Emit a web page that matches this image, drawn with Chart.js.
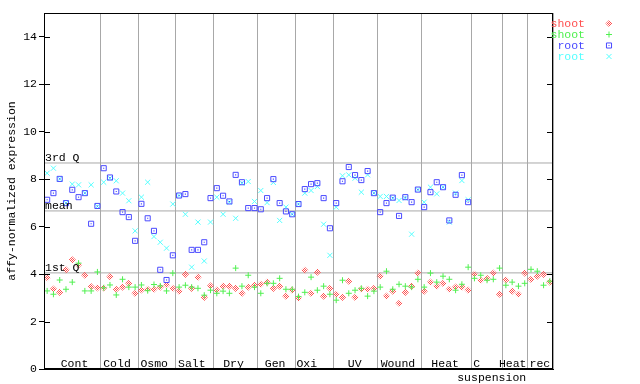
<!DOCTYPE html>
<html><head><meta charset="utf-8">
<script src="https://cdn.jsdelivr.net/npm/chart.js@4"></script>
<style>html,body{margin:0;padding:0;background:#fff}#wrap{width:640px;height:384px;position:relative}</style>
</head><body><div id="wrap"><canvas id="c" width="640" height="384"></canvas></div>
<script>
// ---- data ----
const groups = ['Cont','Cold','Osmo','Salt','Dry','Gen','Oxi','UV','Wound','Heat','C suspension','Heat','rec'];
const groupSizes = [9,6,6,6,7,6,6,7,7,8,5,4,4];
const shootRed = [3.85,3.37,3.23,4.18,4.60,4.39,3.95,3.47,3.42,
  3.42,3.89,3.36,3.45,3.61,3.19,
  3.33,3.36,3.36,3.45,3.55,3.40,
  3.28,3.99,3.40,3.87,3.02,3.50,
  3.32,3.49,3.49,3.40,3.19,3.45,3.53,
  3.57,3.66,3.40,3.49,3.07,3.32,
  2.98,4.16,3.19,4.08,3.07,3.40,
  3.15,3.02,3.70,3.02,3.36,3.36,3.40,
  3.91,3.07,3.28,2.77,3.23,3.49,4.04,
  3.28,3.66,3.49,3.61,3.36,3.45,3.45,3.32,
  3.99,3.74,3.82,4.04,3.15,
  3.75,3.28,3.15,4.04,
  3.78,3.91,3.99,3.66];
const shootGreen = [3.29,3.15,3.75,3.36,3.66,4.46,3.29,3.29,4.09,
  3.42,3.54,3.12,3.78,3.45,3.45,
  3.54,3.30,3.56,3.50,3.29,4.04,
  3.45,3.53,3.45,3.40,3.11,3.32,
  3.19,3.28,3.19,4.25,3.49,3.95,3.45,
  3.19,3.61,3.61,3.82,3.36,3.36,
  3.05,3.23,3.87,3.32,3.49,3.15,
  2.90,3.74,3.19,3.32,3.40,3.07,3.28,
  3.45,4.12,3.36,3.57,3.49,3.45,3.78,
  3.45,4.04,3.66,3.91,3.78,3.32,3.57,4.29,
  3.82,3.95,3.74,3.78,4.25,
  3.53,3.66,3.49,3.61,
  4.20,4.12,3.53,3.70];
const rootBlue = [7.13,7.41,8.01,6.99,7.55,7.24,7.41,6.12,6.87,
  8.46,8.07,7.48,6.61,6.40,5.40,
  6.96,6.35,5.82,4.18,3.75,4.79,
  7.31,7.37,5.02,5.02,5.34,7.20,
  7.62,7.30,7.06,8.18,7.87,6.78,6.78,
  6.73,7.20,8.00,6.99,6.64,6.52,
  6.95,7.58,7.79,7.83,7.20,5.93,
  6.99,7.91,8.51,8.17,7.96,8.34,7.41,
  6.61,6.99,7.22,6.45,7.24,7.03,7.56,
  6.82,7.45,7.87,7.66,6.26,7.34,8.17,7.03];
const rootCyan = [8.25,8.46,8.01,6.99,7.79,7.76,7.41,7.76,6.85,
  7.87,8.04,7.93,7.41,7.09,5.82,
  7.24,7.87,5.58,5.34,5.09,6.95,
  7.31,6.52,4.29,6.19,4.55,6.19,
  7.24,6.52,7.03,6.35,7.83,7.90,7.06,
  7.52,7.01,7.86,6.26,6.82,6.52,
  6.95,7.41,7.52,7.69,6.10,4.79,
  6.82,8.14,8.18,8.04,7.45,8.18,7.41,
  7.27,7.27,7.20,7.10,7.20,5.68,7.56,
  7.03,7.66,7.38,7.66,6.19,7.41,7.94,7.13];
const statValues = [8.68, 6.66, 4.05];
const statLabels = ['3rd Q','mean','1st Q'];
const yTicks = [0,2,4,6,8,10,12,14];
const seriesLabels = ['shoot','shoot','root','root'];

// ---- styles ----
const FONT = {family:'Liberation Mono', size:11.5};
const FONTSTR = '11.5px "Liberation Mono"';
const RED='#ff5050', GREEN='#50f050', BLUE='#4a4aff', CYAN='#55ffff', GRID='#a8a8a8';
const labelOffsets = [2.2,-2.4,-2.9,-3.0,-2.1,-1.4,-7.4,-0.4,-1.1,-1.0,-10.2,-2.6,-0.6];
const secondLineOffset = 14.9;

function checker(color){
  const c=document.createElement('canvas'); c.width=2; c.height=2;
  const g=c.getContext('2d'); g.fillStyle=color; g.fillRect(0,0,1,1); g.fillRect(1,1,1,1);
  return g.createPattern(c,'repeat');
}
const redPattern = checker(RED);

const total = groupSizes.reduce((a,b)=>a+b,0);
const bounds = [0]; groupSizes.forEach(s=>bounds.push(bounds[bounds.length-1]+s));
const pts = arr => arr.map((v,i)=>({x:i+0.5,y:v}));

const styles = [
  {pointStyle:'rectRot', pointRadius:3.6, borderWidth:0, backgroundColor:redPattern, borderColor:RED},
  {pointStyle:'cross', pointRadius:3, borderWidth:1, borderColor:GREEN, backgroundColor:GREEN},
  {pointStyle:'rect', pointRadius:3.6, borderWidth:1, borderColor:BLUE, backgroundColor:'rgba(0,0,0,0)'},
  {pointStyle:'crossRot', pointRadius:3.6, borderWidth:1, borderColor:CYAN, backgroundColor:CYAN}
];
const legendColors=[RED,GREEN,BLUE,CYAN];

const datasets = [
  Object.assign({label:'root centre', data:pts(rootBlue)}, {pointStyle:'rect', pointRadius:0.8, borderWidth:0, backgroundColor:BLUE}),
  Object.assign({label:seriesLabels[2], data:pts(rootBlue)}, styles[2]),
  Object.assign({label:seriesLabels[3], data:pts(rootCyan)}, styles[3]),
  Object.assign({label:seriesLabels[1], data:pts(shootGreen)}, styles[1]),
  Object.assign({label:seriesLabels[0], data:pts(shootRed)}, styles[0]),
];
statValues.forEach((v,k)=>datasets.push({type:'line', label:statLabels[k], data:[{x:0,y:v},{x:total,y:v}],
  borderColor:GRID, borderWidth:1, pointRadius:0, fill:false}));

const decor = {
  id:'decor',
  afterDatasetsDraw(chart){
    const {ctx, chartArea:a, scales:{x,y}} = chart;
    ctx.save();
    ctx.fillStyle='#000'; ctx.font=FONTSTR; ctx.textBaseline='alphabetic'; ctx.textAlign='left';
    statValues.forEach((v,k)=>{ ctx.fillText(statLabels[k], a.left+1, Math.round(y.getPixelForValue(v))-2); });
    // frame
    ctx.strokeStyle='#000'; ctx.lineWidth=1;
    ctx.strokeRect(Math.round(a.left)+0.5, Math.round(a.top)+0.5, Math.round(a.right-a.left)-1, Math.round(a.bottom-a.top)-1);
    // inward ticks
    ctx.beginPath();
    yTicks.forEach(v=>{ const py=Math.round(y.getPixelForValue(v))+0.5;
      ctx.moveTo(a.left, py); ctx.lineTo(a.left+6, py);
      ctx.moveTo(a.right-6, py); ctx.lineTo(a.right, py); });
    ctx.stroke();
    // group labels
    ctx.textAlign='center';
    groups.forEach((g,k)=>{
      const cx = x.getPixelForValue((bounds[k]+bounds[k+1])/2) + labelOffsets[k];
      const parts = g.split(' ');
      ctx.fillText(parts[0], cx, 367);
      if (parts[1]) ctx.fillText(parts[1], cx + secondLineOffset + (-labelOffsets[k]) + labelOffsets[k], 381);
    });
    // legend
    seriesLabels.forEach((s,k)=>{
      const ly = 23.5 + k*11;
      ctx.textAlign='right'; ctx.textBaseline='middle'; ctx.fillStyle=legendColors[k];
      ctx.fillText(s, 585, ly+0.5);
      const st = styles[k];
      ctx.strokeStyle = st.borderColor; ctx.fillStyle = st.backgroundColor; ctx.lineWidth = st.borderWidth;
      Chart.helpers.drawPoint(ctx, {pointStyle:st.pointStyle, radius:st.pointRadius, borderWidth:st.borderWidth, rotation:0}, 609, ly);
      if (k===2){ ctx.fillStyle=BLUE; ctx.fillRect(608.5,ly-0.5,1,1); }
    });
    ctx.restore();
  }
};

new Chart(document.getElementById('c'), {
  type:'scatter',
  data:{datasets},
  options:{
    responsive:false, animation:false, devicePixelRatio:1,
    layout:{padding:{left:0, top:13, right:87, bottom:0}},
    plugins:{legend:{display:false}, tooltip:{enabled:false}},
    scales:{
      x:{type:'linear', min:0, max:total,
        afterBuildTicks:s=>{ s.ticks = bounds.map(v=>({value:v})); },
        afterFit:s=>{ s.height = 15; },
        grid:{color:GRID, lineWidth:1, drawTicks:false},
        ticks:{display:false},
        border:{display:true, color:'#000', width:1}},
      y:{type:'linear', min:0, max:15,
        afterBuildTicks:s=>{ s.ticks = yTicks.map(v=>({value:v})); },
        afterFit:s=>{ s.width = 44; },
        grid:{drawOnChartArea:false, drawTicks:true, tickLength:5, color:'#000'},
        ticks:{font:FONT, color:'#000', padding:2},
        border:{display:true, color:'#000', width:1},
        title:{display:true, text:'affy-normalized expression', font:FONT, color:'#000', padding:{top:5,bottom:0}}}
    }
  },
  plugins:[decor]
});
</script></body></html>
